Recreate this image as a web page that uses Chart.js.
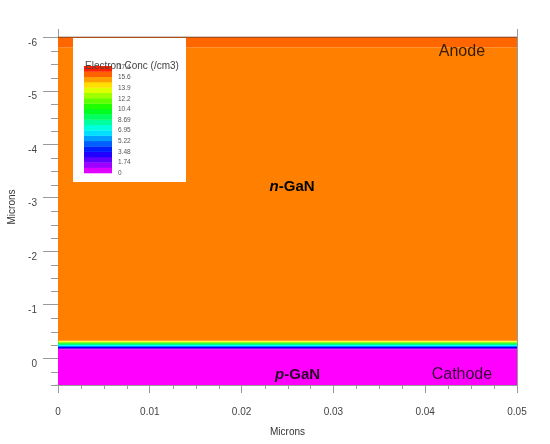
<!DOCTYPE html>
<html>
<head>
<meta charset="utf-8">
<script src="https://cdn.jsdelivr.net/npm/chart.js@4.4.0/dist/chart.umd.min.js"></script>
<style>
  html, body { margin: 0; padding: 0; background: #fff; }
  #wrap { width: 550px; height: 444px; }
</style>
</head>
<body>
<div id="wrap"><canvas id="myChart" width="550" height="444"></canvas></div>
<script>
'use strict'

// layers of the diode, depth in microns (y axis runs downward)
const layerTop    = [-6.0, -5.82, -0.33, -0.31, -0.29, -0.27, -0.25, -0.23, -0.21, -0.19, -0.17];
const layerBottom = [-5.82, -0.33, -0.31, -0.29, -0.27, -0.25, -0.23, -0.21, -0.19, -0.17, 0.5];
const layerConc   = [16.0, 15.66, 13.9, 12.2, 10.4, 8.69, 6.95, 5.22, 3.48, 1.74, 0];

// contact / junction lines
const edgeDepth = [-6, 0];
const edgeColor = ['#5a3420', '#6e0a6e'];

// colour scale of the contour legend
const cbarLabels = ['0', '1.74', '3.48', '5.22', '6.95', '8.69', '10.4', '12.2', '13.9', '15.6', '17.4'];
const cbarMax = 17.4;
const cbarSteps = 20;

const xTicks = [0, 0.01, 0.02, 0.03, 0.04, 0.05];
const yTicks = [-6, -5, -4, -3, -2, -1, 0];

// conc -> rainbow, 0 = magenta, max = red
function concColor(c) {
  const h = 300 * (1 - Math.min(c, cbarMax) / cbarMax);
  return 'hsl(' + h.toFixed(1) + ',100%,50%)';
}

const datasets = [];
for (let i = 0; i < layerTop.length; i++) {
  datasets.push({
    data: [{x: 0, y: layerTop[i]}, {x: 0.05, y: layerTop[i]}],
    fill: {value: layerBottom[i]},
    backgroundColor: concColor(layerConc[i]),
    borderWidth: 0,
    borderColor: 'rgba(0,0,0,0)',
    pointRadius: 0,
  });
}
for (let i = 0; i < edgeDepth.length; i++) {
  datasets.push({
    data: [{x: 0, y: edgeDepth[i]}, {x: 0.05, y: edgeDepth[i]}],
    fill: false,
    borderColor: edgeColor[i],
    borderWidth: 1.5,
    pointRadius: 0,
  });
}

const FONT = "'Liberation Sans', Arial, sans-serif";
Chart.defaults.font.family = FONT;

const minorTicks = {
  id: 'minorTicks',
  afterDraw(chart) {
    const {ctx, scales: {x, y}} = chart;
    ctx.save();
    ctx.strokeStyle = '#9a9a9a';
    ctx.lineWidth = 1;
    ctx.beginPath();
    for (let i = 1; i < 20; i++) {
      if (i % 4 === 0) continue;
      const px = Math.round(x.getPixelForValue(i * 0.0025)) + 0.5;
      ctx.moveTo(px, y.bottom);
      ctx.lineTo(px, y.bottom + 4);
    }
    for (let i = -24; i <= 2; i++) {
      if (i % 4 === 0) continue;
      const py = Math.round(y.getPixelForValue(i * 0.25)) + 0.5;
      ctx.moveTo(x.left, py);
      ctx.lineTo(x.left - 7, py);
    }
    // right frame edge
    ctx.moveTo(x.right + 0.5, y.top);
    ctx.lineTo(x.right + 0.5, y.bottom);
    ctx.stroke();
    ctx.restore();
  }
};

function boldLabel(ctx, first, rest, cx, cy, size, color) {
  ctx.font = 'italic bold ' + size + 'px ' + FONT;
  const w1 = ctx.measureText(first).width;
  ctx.font = 'bold ' + size + 'px ' + FONT;
  const w2 = ctx.measureText(rest).width;
  const x0 = cx - (w1 + w2) / 2;
  ctx.fillStyle = color;
  ctx.textBaseline = 'middle';
  ctx.textAlign = 'left';
  ctx.font = 'italic bold ' + size + 'px ' + FONT;
  ctx.fillText(first, x0, cy);
  ctx.font = 'bold ' + size + 'px ' + FONT;
  ctx.fillText(rest, x0 + w1, cy);
}

const overlay = {
  id: 'overlay',
  afterDatasetsDraw(chart) {
    const {ctx, scales: {x, y}} = chart;
    ctx.save();

    // colour legend box
    ctx.fillStyle = '#fff';
    ctx.fillRect(73, 38, 113, 144);
    const barL = 84, barW = 28, barTop = 66, barBot = 173;
    const stepH = (barBot - barTop) / cbarSteps;
    for (let i = 0; i < cbarSteps; i++) {
      const c = (i + 0.5) * cbarMax / cbarSteps;
      ctx.fillStyle = concColor(c);
      ctx.fillRect(barL, barBot - (i + 1) * stepH, barW, stepH + 0.3);
    }
    ctx.fillStyle = '#555';
    ctx.font = '6.5px ' + FONT;
    ctx.textAlign = 'left';
    ctx.textBaseline = 'middle';
    for (let i = 0; i < cbarLabels.length; i++) {
      const py = barBot - i * (barBot - barTop - 1) / (cbarLabels.length - 1);
      ctx.fillText(cbarLabels[i], 118, py);
    }
    ctx.fillStyle = '#444';
    ctx.font = '10px ' + FONT;
    ctx.fillText('Electron Conc (/cm3)', 85, 66);

    // region labels
    ctx.fillStyle = 'rgba(0,0,0,0.8)';
    ctx.font = '16px ' + FONT;
    ctx.textAlign = 'center';
    ctx.fillText('Anode', x.getPixelForValue(0.0440), y.getPixelForValue(-5.74));
    ctx.fillText('Cathode', x.getPixelForValue(0.0440), y.getPixelForValue(0.31));
    boldLabel(ctx, 'n', '-GaN', x.getPixelForValue(0.0255), y.getPixelForValue(-3.2), 15, '#000');
    boldLabel(ctx, 'p', '-GaN', x.getPixelForValue(0.0261), y.getPixelForValue(0.31), 15, 'rgba(0,0,0,0.85)');
    ctx.restore();
  }
};

const ctx = document.getElementById('myChart').getContext('2d');
new Chart(ctx, {
  type: 'line',
  data: { datasets: datasets },
  options: {
    responsive: false,
    animation: false,
    layout: { padding: { top: 29, right: 33, left: 0, bottom: 0 } },
    plugins: { legend: { display: false }, tooltip: { enabled: false } },
    scales: {
      x: {
        type: 'linear',
        min: 0,
        max: 0.05,
        afterBuildTicks: (s) => { s.ticks = xTicks.map(v => ({value: v})); },
        afterFit: (s) => { s.height = 59; },
        grid: { drawOnChartArea: false, tickLength: 8, tickColor: '#9a9a9a' },
        border: { color: '#9a9a9a' },
        ticks: { color: '#444', font: { size: 10 }, padding: 13, maxRotation: 0,
                 callback: (v) => String(v) },
        title: { display: true, text: 'Microns', color: '#333', font: { size: 10 },
                 padding: { top: 0, bottom: 6 } },
      },
      y: {
        type: 'linear',
        min: -6.16,
        max: 0.5,
        reverse: true,
        afterBuildTicks: (s) => { s.ticks = yTicks.map(v => ({value: v})); },
        afterFit: (s) => { s.width = 58; },
        grid: { drawOnChartArea: false, tickLength: 15, tickColor: '#9a9a9a' },
        border: { color: '#9a9a9a' },
        ticks: { color: '#444', font: { size: 10 }, padding: 6, labelOffset: 5.5,
                 callback: (v) => String(v) },
        title: { display: true, text: 'Microns', color: '#333', font: { size: 10 },
                 padding: { top: 6, bottom: 0 } },
      },
    },
  },
  plugins: [minorTicks, overlay],
});
</script>
</body>
</html>
